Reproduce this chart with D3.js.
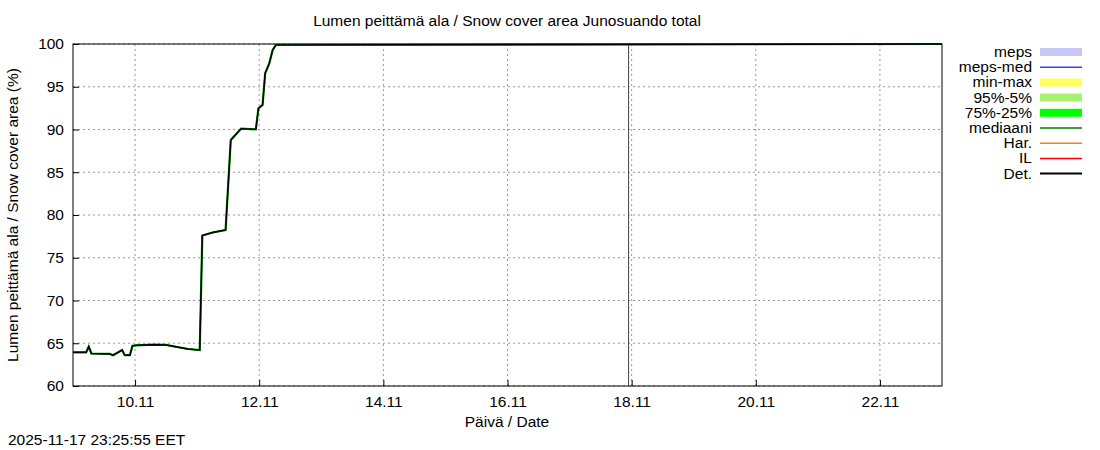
<!DOCTYPE html>
<html><head><meta charset="utf-8">
<script src="https://cdn.jsdelivr.net/npm/d3@7"></script>
<style>body{margin:0;background:#fff}text{font-family:"Liberation Sans",Arial,sans-serif;}</style>
</head><body><svg id="c" width="1100" height="450"></svg>
<script>
const hours = [0,5.1,6.1,7.1,14.2,15.5,19,20,22,23,24.5,31,36,41.3,44.5,49,50,54,59,61,65,70.7,71.7,73.3,74.3,75.9,77.2,78.5,336];
const values = [63.94,63.94,64.6,63.8,63.75,63.6,64.2,63.6,63.6,64.7,64.76,64.83,64.8,64.5,64.33,64.2,77.6,77.95,78.25,88.77,90.1,90.02,92.48,92.87,96.57,97.74,99.3,99.9,100];
const yTicks = [60,65,70,75,80,85,90,95,100];
const xTickLabels = ["10.11","12.11","14.11","16.11","18.11","20.11","22.11"];
const legendLabels = ["meps","meps-med","min-max","95%-5%","75%-25%","mediaani","Har.","IL","Det."];
const legendColors = ["#c8c8f8","#4040e0","#ffff60","#a8f070","#00ff00","#008000","#ff8000","#ff0000","#000000"];
const legendWidths = [8,1.5,8,8,8,1.5,1.5,1.5,2];
const nowHours = 215.4;

const svg = d3.select("#c");
const L=73,R=942,T=44,B=386;
const FS=15.5;
const t0 = new Date(2025,10,9);
const toDate = h => new Date(t0.getTime()+h*3600e3);
const x = d3.scaleTime().domain([t0,new Date(2025,10,23)]).range([L,R]);
const y = d3.scaleLinear().domain([60,100]).range([B,T]);
const xTickDates = xTickLabels.map(s=>{const [d,m]=s.split(".").map(Number);return new Date(2025,m-1,d);});

const g = svg.append("g");
g.selectAll(".gy").data(yTicks).join("line").attr("x1",L).attr("x2",R).attr("y1",d=>y(d)).attr("y2",d=>y(d))
 .attr("stroke","#999").attr("stroke-dasharray","2,3");
g.selectAll(".gx").data(xTickDates).join("line").attr("x1",d=>x(d)).attr("x2",d=>x(d)).attr("y1",T).attr("y2",B)
 .attr("stroke","#999").attr("stroke-dasharray","2,3");
const ya = d3.axisLeft(y).tickValues(yTicks).tickSize(-6).tickPadding(9);
const yg = svg.append("g").attr("transform",`translate(${L},0)`).call(ya);
const xa = d3.axisBottom(x).tickValues(xTickDates).tickFormat((d,i)=>xTickLabels[i]).tickSize(-6).tickPadding(10);
const xg = svg.append("g").attr("transform",`translate(0,${B})`).call(xa);
[yg,xg].forEach(a=>{a.select(".domain").remove();a.selectAll("text").attr("font-size",FS).attr("fill","#000").attr("font-family","Liberation Sans, Arial");});
svg.append("rect").attr("x",L).attr("y",T).attr("width",R-L).attr("height",B-T).attr("fill","none").attr("stroke","#000");
svg.append("line").attr("x1",x(toDate(nowHours))-1.5).attr("x2",x(toDate(nowHours))-1.5).attr("y1",T).attr("y2",B).attr("stroke","#444").attr("stroke-width",1);
const line = d3.line().x((d,i)=>x(toDate(hours[i]))).y(d=>y(d));
svg.append("path").attr("d",line(values)).attr("fill","none").attr("stroke","#008000").attr("stroke-width",2.2);
svg.append("path").attr("d",line(values)).attr("fill","none").attr("stroke","#000").attr("stroke-width",1.4);
svg.append("text").attr("x",507).attr("y",26).attr("text-anchor","middle").attr("font-size",FS).text("Lumen peittämä ala / Snow cover area Junosuando total");
svg.append("text").attr("x",507).attr("y",427).attr("text-anchor","middle").attr("font-size",FS).text("Päivä / Date");
svg.append("text").attr("transform","translate(18,215) rotate(-90)").attr("text-anchor","middle").attr("font-size",FS).text("Lumen peittämä ala / Snow cover area (%)");
svg.append("text").attr("x",8).attr("y",445).attr("font-size",FS).text("2025-11-17 23:25:55 EET");
const lg = svg.append("g");
legendLabels.forEach((lab,i)=>{
  const yy = 52+i*15.2;
  lg.append("text").attr("x",1032).attr("y",yy+5).attr("text-anchor","end").attr("font-size",FS).text(lab);
  lg.append("line").attr("x1",1040).attr("x2",1082).attr("y1",yy).attr("y2",yy).attr("stroke",legendColors[i]).attr("stroke-width",legendWidths[i]);
});
</script></body></html>
